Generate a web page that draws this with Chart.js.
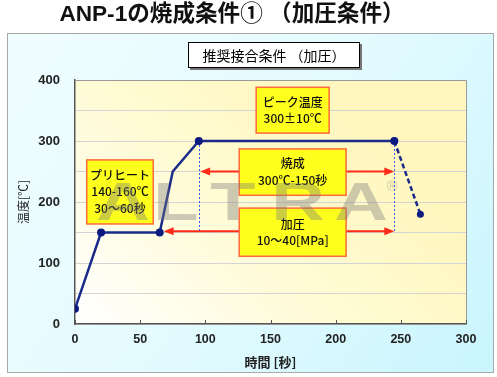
<!DOCTYPE html>
<html>
<head>
<meta charset="utf-8">
<script src="https://cdn.jsdelivr.net/npm/chart.js@4.4.0/dist/chart.umd.min.js"></script>
<style>
  body { margin: 0; background: #fff; }
  #wrap { width: 497px; height: 377px; }
</style>
</head>
<body>
<div id="wrap"><canvas id="myChart" width="497" height="377"></canvas></div>
<script>
// heating profile (time in sec, temperature in degC)
const timeSec = [0, 20, 65, 75, 95, 245];
const tempC = [25, 150, 150, 250, 300, 300];
// cooling part, dashed
const coolTime = [245, 265];
const coolTemp = [300, 180];

const xTicks = [0, 50, 100, 150, 200, 250, 300];
const yTicks = [0, 100, 200, 300, 400];

const chartTitle = 'ANP-1の焼成条件① （加圧条件）';
const subTitle = '推奨接合条件 （加圧）';
const xTitle = '時間 [秒]';
const yTitle = '温度[℃]';

// note boxes, in data units
const notes = [
  { lines: ['プリヒート', '140-160℃', '30～60秒'], x0: 9, x1: 60, y0: 164, y1: 269 },
  { lines: ['ピーク温度', '300±10℃'], x0: 139, x1: 195, y0: 313, y1: 388 },
  { lines: ['焼成', '300℃-150秒'], x0: 126, x1: 208, y0: 211, y1: 287 },
  { lines: ['加圧', '10～40[MPa]'], x0: 126, x1: 208, y0: 111, y1: 190 }
];
// red double arrows
const arrows = [
  { from: 96, to: 245, y: 250 },
  { from: 68, to: 245, y: 152 }
];
// blue dotted guides
const guides = [
  { x: 95, top: 300, bottom: 150 },
  { x: 245, top: 300, bottom: 150 }
];

const CJK = '"Noto Sans CJK JP", "Noto Sans", sans-serif';
const LAT = '"Liberation Sans", Arial, sans-serif';

function arrowHead(ctx, x, y, dir) {
  ctx.beginPath();
  ctx.moveTo(x, y);
  ctx.lineTo(x - dir * 10, y - 4);
  ctx.lineTo(x - dir * 10, y + 4);
  ctx.closePath();
  ctx.fill();
}

const decor = {
  id: 'decor',
  beforeDraw(chart) {
    const ctx = chart.ctx;
    const a = chart.chartArea;
    ctx.save();
    ctx.fillStyle = '#fff';
    ctx.fillRect(0, 0, chart.width, chart.height);

    // outer panel
    let g = ctx.createLinearGradient(7, 33, 493, 372);
    g.addColorStop(0, '#f0fdff');
    g.addColorStop(0.5, '#e4fbff');
    g.addColorStop(1, '#c9f5fd');
    ctx.fillStyle = g;
    ctx.fillRect(7, 33, 486, 339);
    ctx.strokeStyle = '#a8a8a8';
    ctx.lineWidth = 1;
    ctx.strokeRect(7.5, 33.5, 486, 339);

    // title, fitted to its width in the picture
    ctx.fillStyle = '#111';
    ctx.font = 'bold 20px "Liberation Sans", ' + CJK;
    const w = ctx.measureText(chartTitle).width;
    const size = 20 * 345 / w;
    ctx.font = 'bold ' + size.toFixed(1) + 'px "Liberation Sans", ' + CJK;
    ctx.textAlign = 'center';
    ctx.textBaseline = 'middle';
    ctx.fillText(chartTitle, 232, 15);

    // subtitle box
    ctx.fillStyle = '#777';
    ctx.fillRect(190, 44, 172, 26);
    ctx.fillStyle = '#fff';
    ctx.fillRect(188, 42, 172, 26);
    ctx.strokeStyle = '#000';
    ctx.strokeRect(188.5, 42.5, 171, 25);
    ctx.fillStyle = '#000';
    ctx.font = '14px ' + CJK;
    ctx.fillText(subTitle, 274, 56);

    // plot background
    g = ctx.createLinearGradient(a.left, a.bottom, a.left + a.width * 0.6, a.top);
    g.addColorStop(0, '#ffffff');
    g.addColorStop(0.55, '#fffbd4');
    g.addColorStop(1, '#fff7bf');
    ctx.fillStyle = g;
    ctx.fillRect(a.left, a.top, a.width, a.height);
    ctx.restore();
  },
  beforeDatasetsDraw(chart) {
    const ctx = chart.ctx;
    const a = chart.chartArea;
    const xs = chart.scales.x;
    const ys = chart.scales.y;
    ctx.save();
    // top and right frame
    ctx.strokeStyle = '#9a9a9a';
    ctx.lineWidth = 1;
    ctx.beginPath();
    ctx.moveTo(a.left, a.top + 0.5);
    ctx.lineTo(a.right + 0.5, a.top + 0.5);
    ctx.lineTo(a.right + 0.5, a.bottom);
    ctx.stroke();
    // inner tick marks on x axis
    ctx.strokeStyle = '#555';
    xs.ticks.forEach(t => {
      const px = Math.round(xs.getPixelForValue(t.value)) + 0.5;
      ctx.beginPath();
      ctx.moveTo(px, a.bottom);
      ctx.lineTo(px, a.bottom - 4);
      ctx.stroke();
    });
    // guides
    ctx.strokeStyle = '#3a5cff';
    ctx.setLineDash([2, 2]);
    guides.forEach(d => {
      const px = Math.round(xs.getPixelForValue(d.x)) + 0.5;
      ctx.beginPath();
      ctx.moveTo(px, ys.getPixelForValue(d.top));
      ctx.lineTo(px, ys.getPixelForValue(d.bottom));
      ctx.stroke();
    });
    ctx.setLineDash([]);
    // arrows
    ctx.strokeStyle = '#ff2a1a';
    ctx.fillStyle = '#ff2a1a';
    ctx.lineWidth = 2;
    arrows.forEach(d => {
      const x0 = xs.getPixelForValue(d.from);
      const x1 = xs.getPixelForValue(d.to);
      const py = ys.getPixelForValue(d.y);
      ctx.beginPath();
      ctx.moveTo(x0 + 6, py);
      ctx.lineTo(x1 - 6, py);
      ctx.stroke();
      arrowHead(ctx, x0, py, -1);
      arrowHead(ctx, x1, py, 1);
    });
    ctx.restore();
  },
  afterDatasetsDraw(chart) {
    const ctx = chart.ctx;
    const xs = chart.scales.x;
    const ys = chart.scales.y;
    ctx.save();
    // note boxes
    notes.forEach(n => {
      const l = xs.getPixelForValue(n.x0), r = xs.getPixelForValue(n.x1);
      const t = ys.getPixelForValue(n.y1), b = ys.getPixelForValue(n.y0);
      ctx.fillStyle = '#ffff1e';
      ctx.fillRect(l, t, r - l, b - t);
      ctx.strokeStyle = '#ff6a3a';
      ctx.lineWidth = 1.5;
      ctx.strokeRect(l, t, r - l, b - t);
      ctx.fillStyle = '#111';
      ctx.font = '500 12px ' + CJK;
      ctx.textAlign = 'center';
      ctx.textBaseline = 'middle';
      const lh = 16.5;
      const cy = (t + b) / 2 - (n.lines.length - 1) * lh / 2;
      n.lines.forEach((s, i) => ctx.fillText(s, (l + r) / 2, cy + i * lh));
    });
    // watermark
    ctx.globalAlpha = 0.38;
    ctx.fillStyle = '#7a7a7a';
    ctx.font = 'bold 53px ' + LAT;
    ctx.textBaseline = 'alphabetic';
    ctx.textAlign = 'center';
    const mark = ['A', 'L', 'T', 'R', 'A'];
    const centers = [123, 176, 233, 298, 361];
    mark.forEach((c, i) => {
      ctx.save();
      ctx.translate(centers[i], 220);
      ctx.scale(1.4, 1);
      ctx.fillText(c, 0, 0);
      ctx.restore();
    });
    ctx.font = '15px ' + LAT;
    ctx.fillText('®', 392, 191);
    ctx.restore();
  }
};

const data = {
  datasets: [
    {
      label: 'profile',
      data: timeSec.map((t, i) => ({ x: t, y: tempC[i] })),
      borderColor: '#1a2a8a',
      backgroundColor: '#0a1a80',
      borderWidth: 2.5,
      // the kink at 75 s has no marker
      pointRadius: ctx => ctx.dataIndex === 3 ? 0 : 4,
      pointBorderWidth: 0,
      tension: 0
    },
    {
      label: 'cooling',
      data: coolTime.map((t, i) => ({ x: t, y: coolTemp[i] })),
      borderColor: '#1a2a8a',
      backgroundColor: '#0a1a80',
      borderWidth: 2.5,
      borderDash: [5, 3],
      pointRadius: 3.5,
      pointBorderWidth: 0
    }
  ]
};

const config = {
  type: 'line',
  data: data,
  options: {
    responsive: false,
    animation: false,
    layout: { padding: { top: 80, right: 31, bottom: 0, left: 0 } },
    plugins: { legend: { display: false }, tooltip: { enabled: false } },
    scales: {
      x: {
        type: 'linear',
        min: 0,
        max: 300,
        afterBuildTicks: s => { s.ticks = xTicks.map(v => ({ value: v })); },
        afterFit: s => { s.height = 53; },
        ticks: { color: '#222', padding: 8, font: { family: LAT, size: 12.5, weight: 'bold' } },
        grid: { drawOnChartArea: false, drawTicks: false },
        border: { color: '#555', width: 1.5 },
        title: { display: true, text: xTitle, color: '#222', padding: { top: 0, bottom: 7 },
          font: { family: CJK, size: 13, weight: 'bold' } }
      },
      y: {
        min: 0,
        max: 400,
        ticks: {
          stepSize: 50,
          color: '#222',
          padding: 15,
          font: { family: LAT, size: 13, weight: 'bold' },
          callback: v => yTicks.includes(v) ? v : ''
        },
        afterFit: s => { s.width = 75; },
        grid: { color: '#d4d4d4', drawTicks: false },
        border: { color: '#555', width: 1.5 },
        title: { display: true, text: yTitle, color: '#222', padding: { top: 16, bottom: 0 },
          font: { family: CJK, size: 12 } }
      }
    }
  },
  plugins: [decor]
};

const myChart = new Chart(document.getElementById('myChart'), config);
</script>
</body>
</html>
